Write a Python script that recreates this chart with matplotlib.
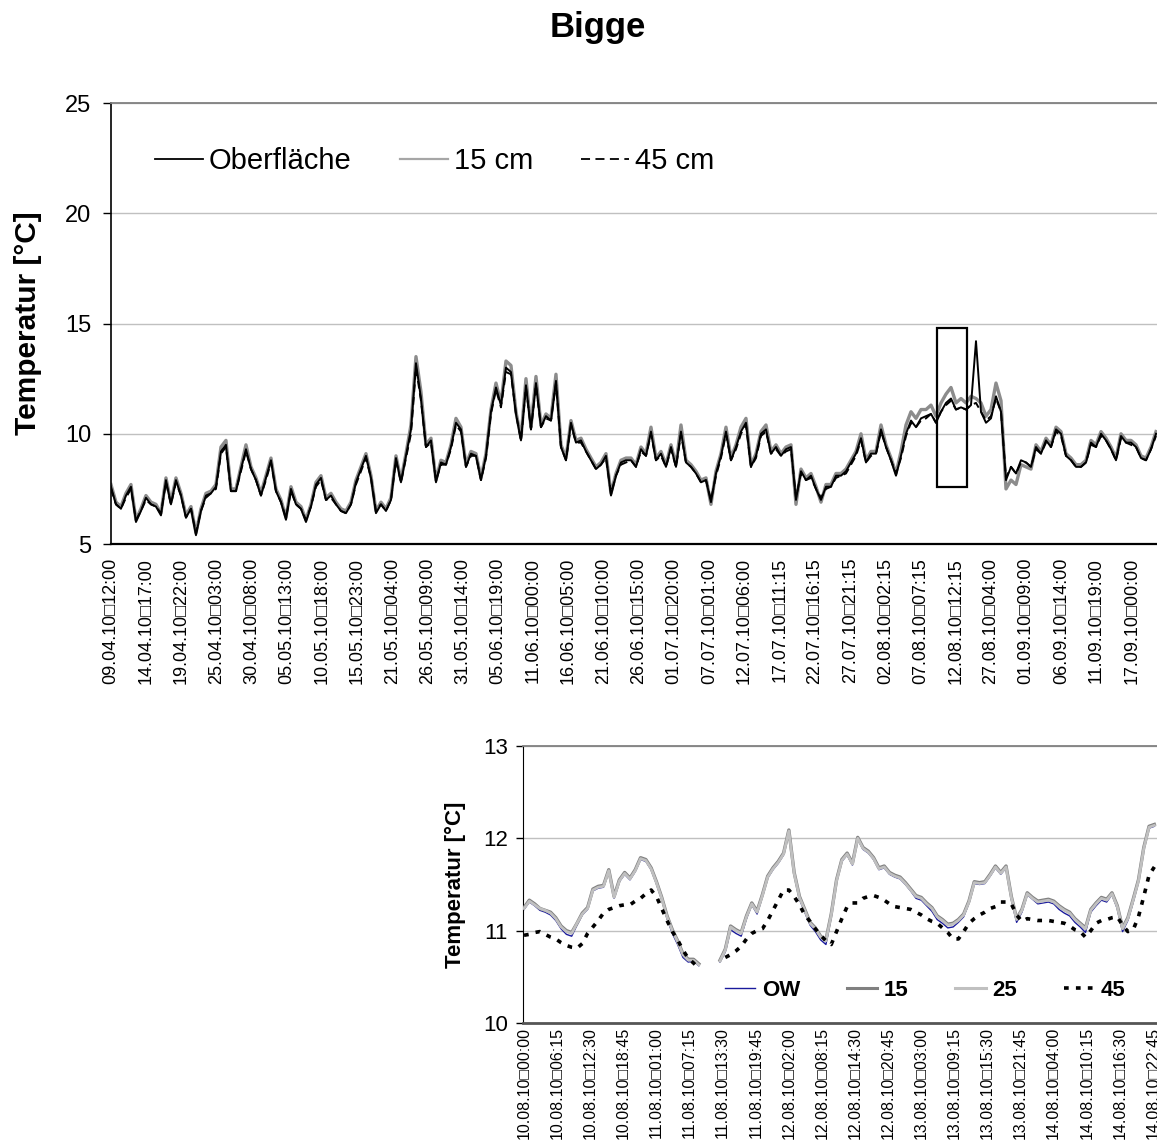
import numpy as np
import matplotlib
matplotlib.use('Agg')
import matplotlib.pyplot as plt
from matplotlib.lines import Line2D
from matplotlib.patches import Rectangle

plt.rcParams['font.family'] = ['Liberation Sans', 'DejaVu Sans']

# ---------------- Bigge, 09.04. - 19.09.2010 ----------------
labels_season = ['09.04.10\u25a112:00', '14.04.10\u25a117:00', '19.04.10\u25a122:00',
                 '25.04.10\u25a103:00', '30.04.10\u25a108:00', '05.05.10\u25a113:00',
                 '10.05.10\u25a118:00', '15.05.10\u25a123:00', '21.05.10\u25a104:00',
                 '26.05.10\u25a109:00', '31.05.10\u25a114:00', '05.06.10\u25a119:00',
                 '11.06.10\u25a100:00', '16.06.10\u25a105:00', '21.06.10\u25a110:00',
                 '26.06.10\u25a115:00', '01.07.10\u25a120:00', '07.07.10\u25a101:00',
                 '12.07.10\u25a106:00', '17.07.10\u25a111:15', '22.07.10\u25a116:15',
                 '27.07.10\u25a121:15', '02.08.10\u25a102:15', '07.08.10\u25a107:15',
                 '12.08.10\u25a112:15', '27.08.10\u25a104:00', '01.09.10\u25a109:00',
                 '06.09.10\u25a114:00', '11.09.10\u25a119:00', '17.09.10\u25a100:00']

oberflaeche = [7.6, 6.8, 6.6, 7.2, 7.6, 6.0, 6.5, 7.1, 6.8, 6.7,
               6.3, 7.9, 6.8, 7.9, 7.2, 6.2, 6.6, 5.4, 6.5, 7.2,
               7.3, 7.6, 9.2, 9.5, 7.4, 7.4, 8.4, 9.3, 8.4, 7.9,
               7.2, 8.0, 8.8, 7.4, 6.9, 6.1, 7.5, 6.8, 6.6, 6.0,
               6.7, 7.7, 8.0, 7.0, 7.2, 6.8, 6.5, 6.4, 6.8, 7.8,
               8.4, 9.0, 8.0, 6.4, 6.8, 6.5, 7.0, 8.9, 7.8, 9.0,
               10.2, 13.2, 11.6, 9.4, 9.7, 7.8, 8.7, 8.6, 9.4, 10.5,
               10.2, 8.5, 9.1, 9.0, 7.9, 9.0, 11.0, 12.1, 11.3, 13.0,
               12.8, 10.9, 9.7, 12.2, 10.2, 12.3, 10.3, 10.8, 10.6, 12.4,
               9.4, 8.8, 10.5, 9.6, 9.7, 9.2, 8.8, 8.4, 8.6, 9.0,
               7.2, 8.1, 8.7, 8.8, 8.8, 8.5, 9.3, 9.0, 10.1, 8.8,
               9.1, 8.5, 9.4, 8.5, 10.1, 8.7, 8.5, 8.2, 7.8, 7.9,
               6.9, 8.2, 9.0, 10.1, 8.8, 9.4, 10.1, 10.5, 8.5, 9.0,
               10.0, 10.2, 9.1, 9.4, 9.0, 9.3, 9.4, 7.0, 8.3, 7.9,
               8.1, 7.5, 7.0, 7.6, 7.6, 8.1, 8.1, 8.3, 8.7, 9.1,
               9.8, 8.7, 9.1, 9.1, 10.2, 9.4, 8.8, 8.1, 9.0, 10.0,
               10.6, 10.3, 10.7, 10.8, 10.9, 10.5, 11.0, 11.4, 11.6, 11.1,
               11.2, 11.1, 11.3, 14.2, 11.0, 10.5, 10.7, 11.7, 11.0, 7.9,
               8.5, 8.2, 8.8, 8.7, 8.5, 9.4, 9.1, 9.7, 9.4, 10.2,
               10.0, 9.0, 8.8, 8.5, 8.5, 8.7, 9.6, 9.4, 10.0, 9.7,
               9.3, 8.8, 9.9, 9.6, 9.6, 9.4, 8.9, 8.8, 9.3, 10.0]

temp_15cm = [7.7, 6.9, 6.7, 7.3, 7.7, 6.1, 6.6, 7.2, 6.9, 6.8,
             6.4, 8.0, 6.9, 8.0, 7.3, 6.3, 6.7, 5.5, 6.6, 7.3,
             7.4, 7.7, 9.4, 9.7, 7.5, 7.5, 8.5, 9.5, 8.5, 8.0,
             7.3, 8.1, 8.9, 7.5, 7.0, 6.2, 7.6, 6.9, 6.7, 6.1,
             6.8, 7.8, 8.1, 7.1, 7.3, 6.9, 6.6, 6.5, 6.9, 7.9,
             8.5, 9.1, 8.1, 6.5, 6.9, 6.6, 7.1, 9.0, 7.9, 9.1,
             10.4, 13.5, 11.9, 9.5, 9.8, 7.9, 8.8, 8.7, 9.5, 10.7,
             10.3, 8.6, 9.2, 9.1, 8.0, 9.1, 11.1, 12.3, 11.4, 13.3,
             13.1, 11.0, 9.8, 12.5, 10.3, 12.6, 10.4, 10.9, 10.7, 12.7,
             9.5, 8.9, 10.6, 9.7, 9.8, 9.3, 8.9, 8.5, 8.7, 9.1,
             7.3, 8.2, 8.8, 8.9, 8.9, 8.6, 9.4, 9.1, 10.3, 8.9,
             9.2, 8.6, 9.5, 8.6, 10.4, 8.8, 8.6, 8.3, 7.9, 8.0,
             6.8, 8.3, 9.1, 10.3, 8.9, 9.5, 10.3, 10.7, 8.6, 9.1,
             10.1, 10.4, 9.2, 9.5, 9.1, 9.4, 9.5, 6.8, 8.4, 8.0,
             8.2, 7.6, 6.9, 7.7, 7.7, 8.2, 8.2, 8.4, 8.8, 9.2,
             10.0, 8.8, 9.2, 9.2, 10.4, 9.5, 8.9, 8.2, 9.2, 10.4,
             11.0, 10.7, 11.1, 11.1, 11.3, 10.8, 11.4, 11.8, 12.1, 11.4,
             11.6, 11.4, 11.7, 11.6, 11.4, 10.8, 11.1, 12.3, 11.5, 7.5,
             7.9, 7.7, 8.6, 8.5, 8.4, 9.5, 9.2, 9.8, 9.5, 10.3,
             10.1, 9.1, 8.9, 8.6, 8.6, 8.8, 9.7, 9.5, 10.1, 9.8,
             9.4, 8.9, 10.0, 9.7, 9.7, 9.5, 9.0, 8.9, 9.4, 10.1]

temp_45cm = [7.5, 6.8, 6.6, 7.1, 7.5, 6.1, 6.5, 7.0, 6.8, 6.7,
             6.4, 7.8, 6.8, 7.8, 7.2, 6.2, 6.6, 5.5, 6.5, 7.1,
             7.3, 7.5, 9.1, 9.4, 7.4, 7.4, 8.3, 9.2, 8.4, 7.9,
             7.2, 7.9, 8.7, 7.4, 6.9, 6.2, 7.4, 6.8, 6.6, 6.1,
             6.7, 7.6, 7.9, 7.0, 7.1, 6.8, 6.5, 6.4, 6.8, 7.7,
             8.3, 8.9, 8.0, 6.5, 6.8, 6.5, 7.0, 8.8, 7.8, 8.9,
             10.0, 13.0, 11.5, 9.4, 9.6, 7.9, 8.6, 8.6, 9.3, 10.4,
             10.1, 8.5, 9.0, 9.0, 7.9, 8.9, 10.9, 12.0, 11.2, 12.8,
             12.7, 10.9, 9.7, 12.1, 10.2, 12.2, 10.3, 10.7, 10.6, 12.3,
             9.4, 8.8, 10.4, 9.6, 9.6, 9.2, 8.8, 8.4, 8.6, 8.9,
             7.3, 8.1, 8.6, 8.7, 8.8, 8.5, 9.2, 9.0, 10.0, 8.8,
             9.0, 8.5, 9.3, 8.5, 10.0, 8.7, 8.5, 8.2, 7.8, 7.9,
             7.0, 8.1, 8.9, 10.0, 8.8, 9.3, 10.0, 10.4, 8.5, 8.9,
             9.9, 10.1, 9.1, 9.3, 9.0, 9.2, 9.3, 7.1, 8.2, 7.9,
             8.0, 7.5, 7.1, 7.5, 7.6, 8.0, 8.1, 8.2, 8.6, 9.0,
             9.7, 8.7, 9.0, 9.1, 10.1, 9.4, 8.8, 8.2, 8.9, 9.9,
             10.5, 10.3, 10.6, 10.7, 10.9, 10.5, 11.0, 11.3, 11.5, 11.1,
             11.2, 11.1, 11.3, 11.4, 11.0, 10.6, 10.8, 11.6, 11.0, 8.0,
             8.5, 8.2, 8.7, 8.7, 8.5, 9.3, 9.1, 9.6, 9.4, 10.1,
             9.9, 9.0, 8.8, 8.5, 8.5, 8.7, 9.5, 9.4, 9.9, 9.7,
             9.3, 8.8, 9.8, 9.6, 9.5, 9.4, 8.9, 8.8, 9.3, 9.9]

# ---------------- Ausschnitt 10.08. - 14.08.2010 (stuendlich) ----------------
labels_detail = ['10.08.10\u25a100:00', '10.08.10\u25a106:15', '10.08.10\u25a112:30',
                 '10.08.10\u25a118:45', '11.08.10\u25a101:00', '11.08.10\u25a107:15',
                 '11.08.10\u25a113:30', '11.08.10\u25a119:45', '12.08.10\u25a102:00',
                 '12.08.10\u25a108:15', '12.08.10\u25a114:30', '12.08.10\u25a120:45',
                 '13.08.10\u25a103:00', '13.08.10\u25a109:15', '13.08.10\u25a115:30',
                 '13.08.10\u25a121:45', '14.08.10\u25a104:00', '14.08.10\u25a110:15',
                 '14.08.10\u25a116:30', '14.08.10\u25a122:45']

nan = np.nan
ow = [11.23, 11.31, 11.27, 11.22, 11.20, 11.17, 11.11, 11.02, 10.96, 10.94,
      11.06, 11.17, 11.23, 11.43, 11.46, 11.47, 11.64, 11.35, 11.53, 11.61,
      11.55, 11.64, 11.77, 11.75, 11.66, 11.51, 11.34, 11.13, 10.97, 10.85,
      10.71, 10.66, 10.67, 10.62, nan, nan, nan, 10.66, 10.77, 11.01,
      10.97, 10.94, 11.13, 11.28, 11.18, 11.37, 11.57, 11.66, 11.73, 11.82,
      12.07, 11.61, 11.34, 11.20, 11.06, 10.99, 10.90, 10.85, 11.15, 11.53,
      11.75, 11.82, 11.71, 11.99, 11.88, 11.84, 11.77, 11.66, 11.68, 11.61,
      11.58, 11.56, 11.50, 11.43, 11.35, 11.33, 11.27, 11.21, 11.12, 11.08,
      11.03, 11.04, 11.09, 11.15, 11.30, 11.51, 11.50, 11.51, 11.59, 11.68,
      11.61, 11.68, 11.34, 11.09, 11.20, 11.39, 11.34, 11.29, 11.30, 11.31,
      11.29, 11.23, 11.19, 11.16, 11.09, 11.04, 10.98, 11.20, 11.27, 11.33,
      11.31, 11.39, 11.24, 10.99, 11.11, 11.31, 11.53, 11.88, 12.11, 12.13]

t15 = [11.25, 11.33, 11.29, 11.24, 11.22, 11.20, 11.14, 11.05, 11.00, 10.98,
       11.08, 11.19, 11.25, 11.45, 11.48, 11.49, 11.66, 11.37, 11.55, 11.63,
       11.57, 11.66, 11.79, 11.77, 11.68, 11.53, 11.36, 11.16, 11.01, 10.89,
       10.75, 10.69, 10.69, 10.64, nan, nan, nan, 10.68, 10.80, 11.05,
       11.01, 10.98, 11.16, 11.30, 11.21, 11.39, 11.59, 11.68, 11.75, 11.84,
       12.09, 11.63, 11.37, 11.23, 11.09, 11.03, 10.94, 10.90, 11.18, 11.55,
       11.77, 11.84, 11.73, 12.01, 11.90, 11.86, 11.79, 11.68, 11.70, 11.63,
       11.60, 11.58, 11.52, 11.45, 11.38, 11.36, 11.30, 11.25, 11.16, 11.12,
       11.07, 11.08, 11.12, 11.18, 11.32, 11.53, 11.52, 11.53, 11.61, 11.70,
       11.63, 11.70, 11.37, 11.13, 11.23, 11.41, 11.36, 11.32, 11.33, 11.34,
       11.32, 11.27, 11.23, 11.20, 11.13, 11.08, 11.03, 11.23, 11.30, 11.36,
       11.34, 11.41, 11.27, 11.03, 11.14, 11.34, 11.55, 11.90, 12.13, 12.15]

t25 = [11.24, 11.32, 11.28, 11.24, 11.22, 11.19, 11.13, 11.04, 10.99, 10.97,
       11.08, 11.18, 11.24, 11.44, 11.47, 11.48, 11.65, 11.36, 11.54, 11.62,
       11.56, 11.65, 11.78, 11.76, 11.67, 11.52, 11.35, 11.15, 11.00, 10.88,
       10.74, 10.68, 10.68, 10.63, nan, nan, nan, 10.67, 10.79, 11.04,
       11.00, 10.97, 11.15, 11.29, 11.20, 11.38, 11.58, 11.67, 11.74, 11.83,
       12.08, 11.62, 11.36, 11.22, 11.08, 11.02, 10.93, 10.89, 11.17, 11.54,
       11.76, 11.83, 11.72, 12.00, 11.89, 11.85, 11.78, 11.67, 11.69, 11.62,
       11.59, 11.57, 11.51, 11.44, 11.37, 11.35, 11.29, 11.24, 11.15, 11.11,
       11.06, 11.07, 11.11, 11.17, 11.31, 11.52, 11.51, 11.52, 11.60, 11.69,
       11.62, 11.69, 11.36, 11.12, 11.22, 11.40, 11.35, 11.31, 11.32, 11.33,
       11.31, 11.26, 11.22, 11.19, 11.12, 11.07, 11.02, 11.22, 11.29, 11.35,
       11.33, 11.40, 11.26, 11.02, 11.13, 11.33, 11.54, 11.89, 12.12, 12.14]

t45 = [10.95, 10.96, 10.98, 10.99, 10.96, 10.93, 10.91, 10.87, 10.84, 10.82,
       10.81, 10.86, 10.97, 11.04, 11.11, 11.19, 11.23, 11.25, 11.27, 11.28,
       11.28, 11.32, 11.35, 11.40, 11.44, 11.37, 11.24, 11.11, 10.99, 10.90,
       10.79, 10.70, 10.65, 10.59, nan, nan, nan, nan, 10.71, 10.74,
       10.78, 10.83, 10.91, 10.97, 11.00, 11.02, 11.11, 11.22, 11.33, 11.44,
       11.44, 11.37, 11.28, 11.17, 11.10, 11.02, 10.95, 10.89, 10.85, 10.99,
       11.13, 11.26, 11.30, 11.30, 11.35, 11.37, 11.38, 11.36, 11.33, 11.29,
       11.26, 11.25, 11.24, 11.23, 11.20, 11.17, 11.13, 11.10, 11.08, 11.03,
       10.98, 10.91, 10.91, 10.99, 11.08, 11.13, 11.17, 11.20, 11.24, 11.26,
       11.31, 11.31, 11.29, 11.17, 11.10, 11.13, 11.12, 11.11, 11.11, 11.11,
       11.10, 11.09, 11.08, 11.05, 11.01, 10.99, 10.93, 11.00, 11.08, 11.11,
       11.12, 11.14, 11.15, 11.06, 10.99, 11.01, 11.15, 11.37, 11.60, 11.69]


fig = plt.figure(figsize=(11.57, 11.42), dpi=100)
fig.text(0.517, 0.976, 'Bigge', ha='center', va='center', fontsize=25, fontweight='bold')

# ---- oberes Diagramm ----
ax1 = fig.add_axes([0.0959, 0.5236, 0.9041, 0.3862])
idx = np.arange(len(oberflaeche))
ax1.plot(idx, temp_15cm, color='#8c8c8c', lw=2.4, zorder=2)
ax1.plot(idx, oberflaeche, color='black', lw=1.4, zorder=3)
ax1.plot(idx, temp_45cm, color='black', lw=1.4, ls=(0, (4, 2.5)), zorder=4)
# markierter Ausschnitt
ax1.add_patch(Rectangle((165.3, 7.6), 5.9, 7.2, fill=False, ec='black', lw=1.6, zorder=5))

ax1.set_xlim(0, 209.2)
ax1.set_ylim(5, 25)
ax1.set_yticks([5, 10, 15, 20, 25])
ax1.set_xticks(np.arange(len(labels_season)) * 7.04)
ax1.set_xticklabels(labels_season, rotation=90, ha='center', va='top')
ax1.tick_params(axis='x', length=0, pad=10, labelsize=13)
ax1.tick_params(axis='y', length=6, width=1, pad=8, labelsize=17)
ax1.yaxis.grid(True, color='#c0c0c0', lw=1)
ax1.set_axisbelow(True)
ax1.spines['right'].set_visible(False)
ax1.spines['top'].set_color('#808080')
ax1.spines['top'].set_linewidth(1.3)
ax1.spines['left'].set_linewidth(1.2)
ax1.spines['bottom'].set_linewidth(1.6)

hdl1 = [Line2D([], [], color='black', lw=1.3),
        Line2D([], [], color='#a6a6a6', lw=1.6),
        Line2D([], [], color='black', lw=1.3, ls=(0, (5, 3)))]
ax1.legend(hdl1, ['Oberfläche', '15 cm', '45 cm'], loc='center left',
           bbox_to_anchor=(0.042, 0.868), ncol=3, frameon=False, fontsize=21,
           handlelength=1.65, handletextpad=0.2, columnspacing=1.65,
           borderpad=0, borderaxespad=0)
fig.text(28 / 1157, 0.7167, 'Temperatur [°C]', rotation=90, ha='center', va='center',
         fontsize=21.5, fontweight='bold')

# ---- Ausschnitt ----
ax2 = fig.add_axes([0.452, 0.1042, 0.548, 0.2426])
hrs = np.arange(len(ow))
ax2.plot(hrs, ow, color='#1a1a9c', lw=1.0, zorder=2)
ax2.plot(hrs, t15, color='#808080', lw=2.4, zorder=3)
ax2.plot(hrs, t25, color='#c0c0c0', lw=2.0, zorder=4)
ax2.plot(hrs, t45, color='black', lw=2.6, ls=(0, (1.3, 2.0)), zorder=5)

ax2.set_xlim(-0.2, 119.5)
ax2.set_ylim(10, 13)
ax2.set_yticks([10, 11, 12, 13])
ax2.set_xticks(np.arange(len(labels_detail)) * 6.25)
ax2.set_xticklabels(labels_detail, rotation=90, ha='center', va='top')
ax2.tick_params(axis='x', length=0, pad=3, labelsize=11.5)
ax2.tick_params(axis='y', length=5, width=1, pad=6, labelsize=16)
ax2.yaxis.grid(True, color='#c0c0c0', lw=1)
ax2.set_axisbelow(True)
ax2.spines['right'].set_visible(False)
ax2.spines['top'].set_color('#808080')
ax2.spines['top'].set_linewidth(1.3)
ax2.spines['bottom'].set_color('#555555')
ax2.spines['bottom'].set_linewidth(2.0)

hdl2 = [Line2D([], [], color='#1a1a9c', lw=1.0),
        Line2D([], [], color='#808080', lw=2.2),
        Line2D([], [], color='#c0c0c0', lw=2.2),
        Line2D([], [], color='black', lw=2.6, ls=(0, (1.3, 2.0)))]
ax2.legend(hdl2, ['OW', '15', '25', '45'], loc='center left',
           bbox_to_anchor=(0.319, 0.119), ncol=4, frameon=False,
           prop={'weight': 'bold', 'size': 16}, handlelength=1.36,
           handletextpad=0.3, columnspacing=2.1, borderpad=0, borderaxespad=0)
fig.text(455 / 1157, 0.2255, 'Temperatur [°C]', rotation=90, ha='center', va='center',
         fontsize=16, fontweight='bold')

fig.savefig('out.png', dpi=100)
